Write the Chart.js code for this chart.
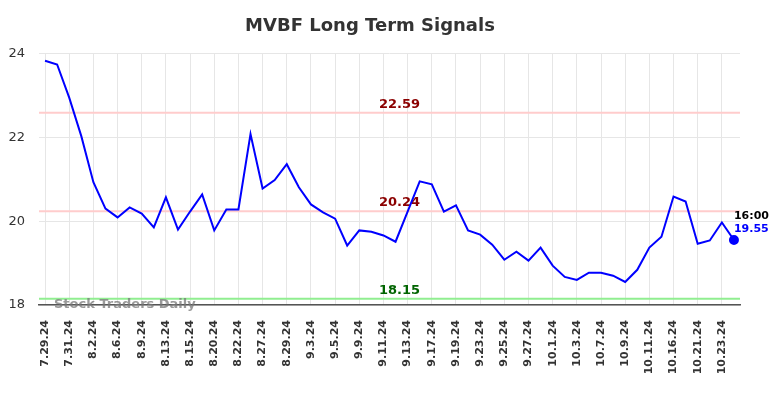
<!DOCTYPE html>
<html>
<head>
<meta charset="utf-8">
<script src="https://cdn.jsdelivr.net/npm/chart.js@4/dist/chart.umd.min.js"></script>
<style>
  html, body { margin: 0; padding: 0; background: #fff; }
  #wrap { width: 784px; height: 398px; }
</style>
</head>
<body>
<div id="wrap"><canvas id="myChart" width="784" height="398"></canvas></div>
<script>
// tick labels, one per two sessions
const tickLabels = ['7.29.24', '7.31.24', '8.2.24', '8.6.24', '8.9.24', '8.13.24', '8.15.24', '8.20.24',
  '8.22.24', '8.27.24', '8.29.24', '9.3.24', '9.5.24', '9.9.24', '9.11.24', '9.13.24', '9.17.24',
  '9.19.24', '9.23.24', '9.25.24', '9.27.24', '10.1.24', '10.3.24', '10.7.24', '10.9.24', '10.11.24',
  '10.16.24', '10.21.24', '10.23.24'];

const prices = [23.83, 23.74, 22.95, 22.03, 20.93, 20.30, 20.09, 20.33, 20.18, 19.85,
  20.57, 19.80, 20.23, 20.64, 19.78, 20.28, 20.28, 22.08, 20.78, 20.98,
  21.36, 20.81, 20.40, 20.21, 20.06, 19.42, 19.78, 19.75, 19.66, 19.51,
  20.23, 20.95, 20.88, 20.23, 20.38, 19.78, 19.68, 19.44, 19.08, 19.27,
  19.06, 19.37, 18.94, 18.67, 18.60, 18.77, 18.77, 18.70, 18.55, 18.84,
  19.37, 19.63, 20.59, 20.47, 19.46, 19.54, 19.97, 19.55];

const signals = [
  { value: 22.59, line: '#ffcccc', text: '#8b0000' },
  { value: 20.24, line: '#ffcccc', text: '#8b0000' },
  { value: 18.15, line: '#90ee90', text: '#006400' },
];
const lastTime = '16:00';

const labels = prices.map((p, i) => (i % 2 === 0 ? tickLabels[i / 2] || '' : ''));

// signal lines, watermark and last price tag
const overlay = {
  id: 'overlay',
  beforeDatasetsDraw(chart) {
    const { ctx, chartArea, scales } = chart;
    ctx.save();
    signals.forEach((s) => {
      const y = scales.y.getPixelForValue(s.value);
      ctx.strokeStyle = s.line;
      ctx.lineWidth = 2;
      ctx.beginPath();
      ctx.moveTo(chartArea.left, y);
      ctx.lineTo(chartArea.right, y);
      ctx.stroke();
      ctx.fillStyle = s.text;
      ctx.font = 'bold 13px "DejaVu Sans"';
      ctx.textAlign = 'center';
      ctx.textBaseline = 'bottom';
      ctx.fillText(s.value.toFixed(2), (chartArea.left + chartArea.right) / 2 + 10, y - 2);
    });
    ctx.fillStyle = 'rgba(120,120,120,0.75)';
    ctx.font = 'bold 13px "DejaVu Sans"';
    ctx.textAlign = 'left';
    ctx.textBaseline = 'middle';
    ctx.fillText('Stock Traders Daily', chartArea.left + 15, chartArea.bottom);
    ctx.restore();
  },
  afterDatasetsDraw(chart) {
    const { ctx, scales } = chart;
    const i = prices.length - 1;
    const x = scales.x.getPixelForValue(i);
    const y = scales.y.getPixelForValue(prices[i]);
    ctx.save();
    ctx.font = 'bold 11px "DejaVu Sans"';
    ctx.textAlign = 'left';
    ctx.textBaseline = 'middle';
    ctx.fillStyle = '#000';
    ctx.fillText(lastTime, x, y - 24);
    ctx.fillStyle = '#0000ff';
    ctx.fillText(prices[i].toFixed(2), x, y - 11);
    ctx.restore();
  },
};

new Chart(document.getElementById('myChart'), {
  type: 'line',
  data: {
    labels: labels,
    datasets: [{
      data: prices,
      borderColor: '#0000ff',
      backgroundColor: '#0000ff',
      borderWidth: 2,
      tension: 0,
      pointRadius: prices.map((p, i) => (i === prices.length - 1 ? 4 : 0)),
      pointHoverRadius: 0,
    }],
  },
  options: {
    responsive: false,
    animation: false,
    events: [],
    layout: { padding: { left: 0, right: 44, top: 0, bottom: 0 } },
    plugins: {
      legend: { display: false },
      tooltip: { enabled: false },
      title: {
        display: true,
        text: 'MVBF Long Term Signals',
        color: '#333',
        font: { family: 'DejaVu Sans', size: 18, weight: 'bold' },
        padding: { top: 16, bottom: 16 },
      },
    },
    scales: {
      x: {
        offset: true,
        grid: {
          color: (c) => (c.index % 2 === 0 ? '#e6e6e6' : 'rgba(0,0,0,0)'),
          drawTicks: false,
        },
        border: { color: '#555', width: 1.5 },
        ticks: {
          autoSkip: false,
          maxRotation: 90,
          minRotation: 90,
          padding: 15,
          color: '#333',
          font: { family: 'DejaVu Sans', size: 11, weight: 'bold' },
        },
        afterFit: (scale) => { scale.height = 93; },
      },
      y: {
        min: 18,
        max: 24,
        ticks: {
          stepSize: 2,
          padding: 14,
          color: '#333',
          font: { family: 'DejaVu Sans', size: 13 },
        },
        grid: { color: '#e6e6e6', drawTicks: false },
        border: { display: false },
        afterFit: (scale) => { scale.width = 39; },
      },
    },
  },
  plugins: [overlay],
});
</script>
</body>
</html>
